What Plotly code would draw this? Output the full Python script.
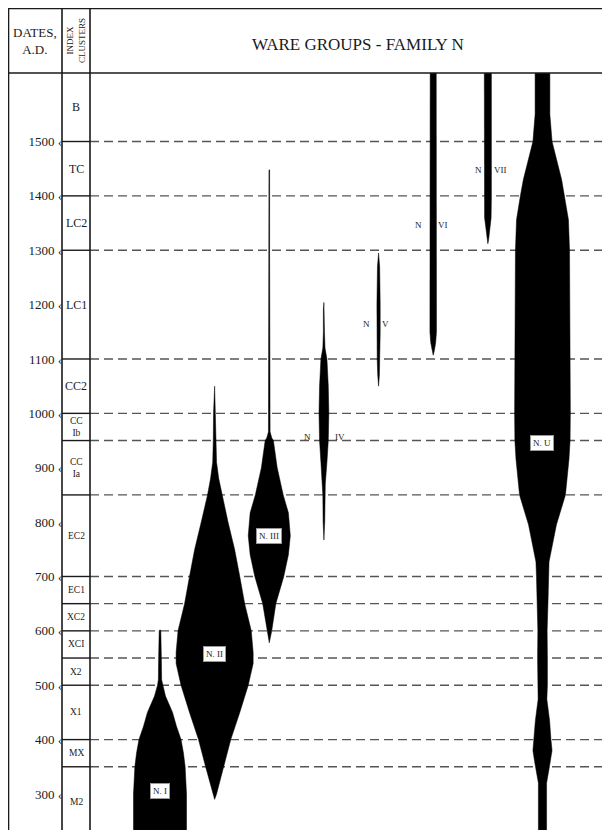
import numpy as np
import plotly.graph_objects as go

# ---------------- data ----------------
groups = ["N. I", "N. II", "N. III", "N. IV", "N. V", "N. VI", "N. VII", "N. U"]

# abundance profiles: date (A.D.) and relative width (% of one column)
n1_dates = [602, 600, 550, 510, 500, 480, 450, 425, 400, 375, 350, 325, 300, 200]
n1_width = [0, 3, 5, 6, 9, 20, 46, 60, 77, 86, 92, 95, 97, 97]

n2_dates = [1050, 1000, 950, 910, 880, 850, 800, 750, 700, 650, 600, 560, 540, 500, 450, 400, 350, 300, 290]
n2_width = [0, 4, 5, 7, 15, 26, 49, 73, 92, 110, 134, 141, 141, 123, 92, 59, 33, 7, 0]

n3_dates = [1448, 1300, 1100, 966, 955, 950, 900, 850, 817, 775, 740, 700, 650, 600, 578]
n3_width = [1.2, 1.2, 1.2, 3, 9, 15, 29, 51, 70, 77, 70, 53, 24, 9, 0]

n4_dates = [1204, 1190, 1150, 1120, 1100, 1050, 1000, 950, 910, 870, 850, 800, 767]
n4_width = [0, 2, 2, 4, 11, 16, 18, 16, 11, 5, 4, 3, 0]

n5_dates = [1295, 1270, 1200, 1150, 1100, 1070, 1050]
n5_width = [0, 4, 6, 6, 5, 3, 0]

n6_dates = [1650, 1500, 1300, 1150, 1130, 1115, 1107]
n6_width = [11, 11, 12, 12, 9, 4, 0]

n7_dates = [1650, 1400, 1360, 1340, 1320, 1312]
n7_width = [13, 13, 12, 7, 3, 0]

nu_dates = [1650, 1550, 1500, 1456, 1430, 1400, 1356, 1300, 1200, 1100, 1000, 950, 916, 850, 795,
            727, 700, 650, 600, 550, 500, 474, 435, 400, 380, 360, 346, 320, 278, 200]
nu_width = [27, 27, 35, 57, 70, 81, 95, 99, 101, 101, 102, 101, 97, 84, 51,
            24, 22, 20, 17, 18, 18, 16, 26, 31, 35, 29, 24, 15, 15, 15]

profiles_dates = [n1_dates, n2_dates, n3_dates, n4_dates, n5_dates, n6_dates, n7_dates, nu_dates]
profiles_width = [n1_width, n2_width, n3_width, n4_width, n5_width, n6_width, n7_width, nu_width]

# index clusters (top to bottom) and their boundaries
cluster_names = ["B", "TC", "LC2", "LC1", "CC2", "CC<br>Ib", "CC<br>Ia", "EC2", "EC1",
                 "XC2", "XCI", "X2", "X1", "MX", "M2"]
cluster_bounds = [1500, 1400, 1300, 1100, 1000, 950, 850, 700, 650, 600, 550, 500, 400, 350]
big_clusters = {"B", "TC", "LC2", "LC1", "CC2"}

tick_dates = [1500, 1400, 1300, 1200, 1100, 1000, 900, 800, 700, 600, 500, 400, 300]
tick_text = [f"{d} ‹" for d in tick_dates]

# label placement (date) for each ware group
boxed_labels = {"N. I": 306, "N. II": 557, "N. III": 775, "N. U": 945}
split_labels = {"N. IV": (950, "IV", -16, 16, 4), "N. V": (1164, "V", -12, 7, 0),
                "N. VI": (1347, "VI", -15, 10, 0), "N. VII": (1447, "VII", -9, 13, 0)}

# ---------------- layout geometry ----------------
W, H = 610, 830
L, T = 82, 65
PW, PH = W - L, H - T
Y_TOP, Y_BOT = 1626, 219
X_LO, X_HI = -1.281, 8.382
FONT = "Liberation Serif"
INK = "#1a1a1a"


def px(xf):
    return (xf - L) / PW


def py(yf):
    return (H - yf) / PH


fig = go.Figure()

for i, (name, d, w) in enumerate(zip(groups, profiles_dates, profiles_width)):
    d = np.array(d, float)
    hw = np.array(w, float) / 100.0 / 2.0
    xs = np.concatenate([i - hw, (i + hw)[::-1]])
    ys = np.concatenate([d, d[::-1]])
    fig.add_trace(go.Scatter(x=xs, y=ys, mode="lines", fill="toself",
                             fillcolor="black", line=dict(color="black", width=0.5),
                             name=name, hoverinfo="skip", showlegend=False))

shapes = []
# dashed boundary lines in plot + solid ones in index column
for b in cluster_bounds:
    shapes.append(dict(type="line", xref="paper", yref="y", x0=0, x1=1, y0=b, y1=b,
                       line=dict(color="#555", width=1.4, dash="9px,5px"), layer="below"))
    shapes.append(dict(type="line", xref="paper", yref="y", x0=px(54), x1=0, y0=b, y1=b,
                       line=dict(color=INK, width=1.4), layer="above"))

# frame
frame = [
    (px(0), py(0.5), 1, py(0.5)),
    (px(0), 1, 1, 1),
    (px(0.5), 0, px(0.5), py(0)),
    (px(54), 0, px(54), py(0)),
    (0, 0, 0, py(0)),
]
for x0, y0, x1, y1 in frame:
    shapes.append(dict(type="line", xref="paper", yref="paper", x0=x0, y0=y0, x1=x1, y1=y1,
                       line=dict(color=INK, width=1.6), layer="above"))

ann = []
C = dict(xanchor="center", yanchor="middle", showarrow=False)
# header texts
ann.append(dict(text="WARE GROUPS - FAMILY N", xref="paper", yref="paper", x=px(350), y=py(37),
                font=dict(family=FONT, size=17, color=INK), **C))
ann.append(dict(text="DATES,<br>A.D.", xref="paper", yref="paper", x=px(27), y=py(33),
                font=dict(family=FONT, size=13, color=INK), **C))
ann.append(dict(text="INDEX<br>CLUSTERS", xref="paper", yref="paper", x=px(68), y=py(33),
                textangle=-90, font=dict(family=FONT, size=9, color=INK), **C))

# cluster labels at zone midpoints
edges = [Y_TOP] + cluster_bounds + [Y_BOT]
for k, nm in enumerate(cluster_names):
    mid = (edges[k] + edges[k + 1]) / 2
    ann.append(dict(text=nm, xref="paper", yref="y", x=px(68), y=mid,
                    font=dict(family=FONT, size=12 if nm in big_clusters else 9.5, color=INK), **C))

# group labels
for nm, yd in boxed_labels.items():
    i = groups.index(nm)
    ann.append(dict(text=nm, x=i, y=yd, bgcolor="white",
                    bordercolor="#999", borderwidth=1, borderpad=2,
                    font=dict(family=FONT, size=9, color=INK), **C))
for nm, (yd, num, dl, dr, ys) in split_labels.items():
    i = groups.index(nm)
    ann.append(dict(text="N", x=i, y=yd, xshift=dl, yshift=ys,
                    font=dict(family=FONT, size=9, color=INK), **C))
    ann.append(dict(text=num, x=i, y=yd, xshift=dr, yshift=ys,
                    font=dict(family=FONT, size=9, color=INK), **C))

fig.update_layout(
    width=W, height=H, margin=dict(l=L, r=0, t=T, b=0, pad=0),
    paper_bgcolor="white", plot_bgcolor="white",
    xaxis=dict(range=[X_LO, X_HI], visible=False, fixedrange=True),
    yaxis=dict(range=[Y_BOT, Y_TOP], showgrid=False, zeroline=False, showline=False,
               tickvals=tick_dates, ticktext=tick_text, ticks="", ticklabelstandoff=27,
               tickfont=dict(family=FONT, size=13, color=INK), fixedrange=True),
    shapes=shapes, annotations=ann, showlegend=False,
)

fig.write_html("out.html")
